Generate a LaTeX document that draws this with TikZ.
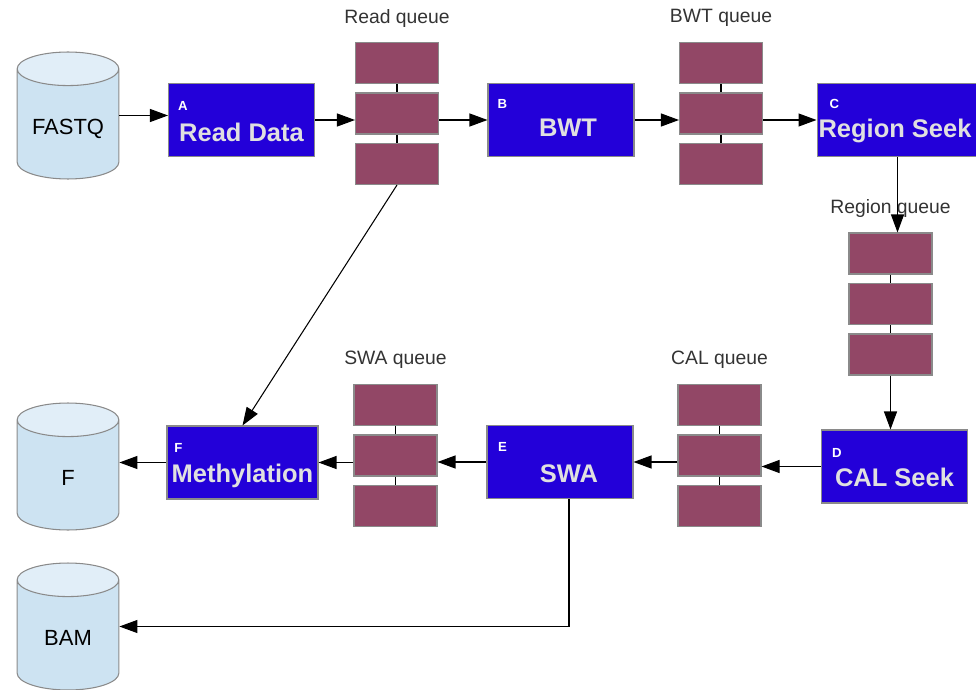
\documentclass[tikz,border=0pt]{standalone}
\usepackage{fontspec}
\setmainfont{Liberation Sans}
\usetikzlibrary{shapes.geometric,arrows.meta}
\definecolor{stageblue}{HTML}{2300D9}
\definecolor{queuered}{HTML}{924766}
\definecolor{dbbody}{HTML}{CDE3F2}
\definecolor{dbtop}{HTML}{E1EEF8}
\definecolor{edgegray}{HTML}{8A8A8A}
\begin{document}
\begin{tikzpicture}[x=0.02cm,y=-0.02cm,->,>={Triangle[length=3.6mm,width=2.6mm]},line width=0.6pt,node distance=1.01cm,
    stage/.style={rectangle,draw=edgegray,fill=stageblue,minimum width=2.92cm,minimum height=1.46cm},
    stage name/.style={text=white!88!black,text depth=0pt,font=\fontsize{14.5}{16}\selectfont\bfseries},
    stage tag/.style={text=white,font=\fontsize{7.5}{8}\selectfont\bfseries},
    cell/.style={rectangle,draw=edgegray,fill=queuered,minimum width=1.66cm,minimum height=0.82cm},
    queue label/.style={text=black!80,font=\fontsize{11}{13}\selectfont},
    store/.style={cylinder,shape border rotate=90,aspect=0.33,draw=edgegray,cylinder uses custom fill,
      cylinder body fill=dbbody,cylinder end fill=dbtop,minimum width=2cm,minimum height=2.54cm,
      text width=1.8cm,align=center,text height=1.6ex,text depth=0.3ex,
      anchor=shape center,font=\fontsize{12.5}{14}\selectfont}]
    \useasboundingbox (0,0) rectangle (976,689);

    % data stores
    \node[store] (fastq) at (68,115.5) {FASTQ};
    \node[store] (f)     at (68,466.5) {F};
    \node[store] (bam)   at (68,626.5) {BAM};

    % pipeline stages
    \node[stage] (1) at (241.5,120) {};
    \node[stage] (2) at (561,120) {};
    \node[stage,minimum width=3.22cm] (3) at (897.5,120) {};
    \node[stage] (4) at (894.5,466.5) {};
    \node[stage] (5) at (560,462) {};
    \node[stage,minimum width=3.02cm] (6) at (242.5,462.5) {};

    \node[stage tag] (1t) at ([xshift=0.3cm,yshift=-0.46cm]1.north west) {A};
    \node[stage tag] (2t) at ([xshift=0.3cm,yshift=-0.42cm]2.north west) {B};
    \node[stage tag] (3t) at ([xshift=0.36cm,yshift=-0.42cm]3.north west) {C};
    \node[stage tag] (4t) at ([xshift=0.32cm,yshift=-0.46cm]4.north west) {D};
    \node[stage tag] (5t) at ([xshift=0.32cm,yshift=-0.44cm]5.north west) {E};
    \node[stage tag] (6t) at ([xshift=0.24cm,yshift=-0.44cm]6.north west) {F};

    \node[stage name] (1n) at ([yshift=-0.24cm]1.center) {Read Data};
    \node[stage name] (2n) at ([xshift=0.14cm,yshift=-0.16cm]2.center) {BWT};
    \node[stage name] (3n) at ([xshift=-0.05cm,yshift=-0.16cm]3.center) {Region Seek};
    \node[stage name] (4n) at ([yshift=-0.22cm]4.center) {CAL Seek};
    \node[stage name] (5n) at ([xshift=0.18cm,yshift=-0.24cm]5.center) {SWA};
    \node[stage name] (6n) at ([yshift=-0.22cm]6.center) {Methylation};

    % queues between the stages
    \node[cell] (q1a) at (397,63) {};
    \node[cell] (q1b) [below of=q1a] {};
    \node[cell] (q1c) [below of=q1b] {};
    \node[queue label,node distance=0.9cm] (q1l) [above of=q1a] {Read queue};

    \node[cell] (q2a) at (721,63) {};
    \node[cell] (q2b) [below of=q2a] {};
    \node[cell] (q2c) [below of=q2b] {};
    \node[queue label,node distance=0.9cm] (q2l) [above of=q2a] {BWT queue};

    \node[cell] (q3a) at (890.5,253.5) {};
    \node[cell] (q3b) [below of=q3a] {};
    \node[cell] (q3c) [below of=q3b] {};
    \node[queue label,node distance=0.9cm] (q3l) [above of=q3a] {Region queue};

    \node[cell] (q4a) at (719.5,405) {};
    \node[cell] (q4b) [below of=q4a] {};
    \node[cell] (q4c) [below of=q4b] {};
    \node[queue label,node distance=0.9cm] (q4l) [above of=q4a] {CAL queue};

    \node[cell] (q5a) at (395.5,405) {};
    \node[cell] (q5b) [below of=q5a] {};
    \node[cell] (q5c) [below of=q5b] {};
    \node[queue label,node distance=0.9cm] (q5l) [above of=q5a] {SWA queue};

    \foreach \q in {q1,q2,q3,q4,q5} {
      \draw[-] (\q a) -- (\q b);
      \draw[-] (\q b) -- (\q c);
    }

    % data flow
    \draw (fastq.shape center -| fastq.east) -- (fastq.shape center -| 1.west);
    \draw (1) -- (1 -| q1b.west);
    \draw (q1b.east |- 2) -- (2);
    \draw (2) -- (2 -| q2b.west);
    \draw (q2b.east |- 3) -- (3);
    \draw (3) -- (3 |- q3a.north);
    \draw (q3c) -- (q3c |- 4.north);
    \draw (4) -- (4 -| q4b.east);
    \draw (q4b.west |- 5) -- (5);
    \draw (5) -- (5 -| q5b.east);
    \draw (q5b.west |- 6) -- (6);
    \draw (6) -- (6 -| f.east);
    \draw (q1c.south) -- (6.north);
    \draw (5n |- 5.south) |- (bam.shape center -| bam.east);
\end{tikzpicture}
\end{document}
